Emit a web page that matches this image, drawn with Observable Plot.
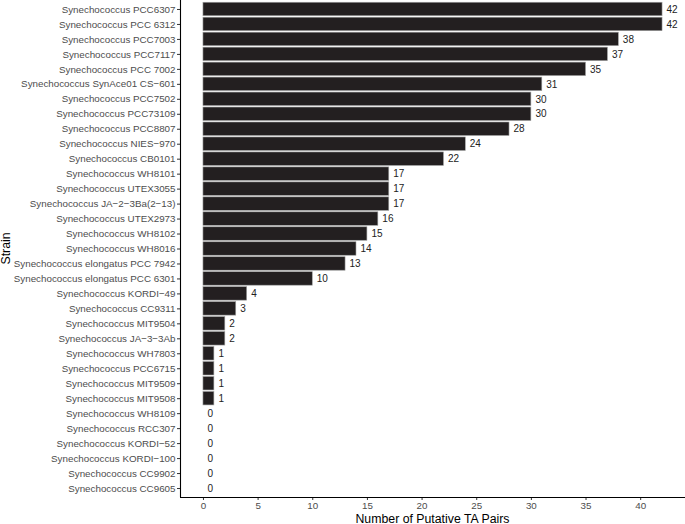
<!DOCTYPE html>
<html>
<head>
<meta charset="utf-8">
<script src="https://cdn.jsdelivr.net/npm/d3@7"></script>
<script src="https://cdn.jsdelivr.net/npm/@observablehq/plot@0.6"></script>
<style>
  html, body { margin: 0; padding: 0; background: #fff; }
  #chart svg { display: block; }
</style>
</head>
<body>
<div id="chart"></div>
<script>
const strains = [
  "Synechococcus PCC6307",
  "Synechococcus PCC 6312",
  "Synechococcus PCC7003",
  "Synechococcus PCC7117",
  "Synechococcus PCC 7002",
  "Synechococcus SynAce01 CS\u2212601",
  "Synechococcus PCC7502",
  "Synechococcus PCC73109",
  "Synechococcus PCC8807",
  "Synechococcus NIES\u2212970",
  "Synechococcus CB0101",
  "Synechococcus WH8101",
  "Synechococcus UTEX3055",
  "Synechococcus JA\u22122\u22123Ba(2\u221213)",
  "Synechococcus UTEX2973",
  "Synechococcus WH8102",
  "Synechococcus WH8016",
  "Synechococcus elongatus PCC 7942",
  "Synechococcus elongatus PCC 6301",
  "Synechococcus KORDI\u221249",
  "Synechococcus CC9311",
  "Synechococcus MIT9504",
  "Synechococcus JA\u22123\u22123Ab",
  "Synechococcus WH7803",
  "Synechococcus PCC6715",
  "Synechococcus MIT9509",
  "Synechococcus MIT9508",
  "Synechococcus WH8109",
  "Synechococcus RCC307",
  "Synechococcus KORDI\u221252",
  "Synechococcus KORDI\u2212100",
  "Synechococcus CC9902",
  "Synechococcus CC9605"
];
const taPairs = [42, 42, 38, 37, 35, 31, 30, 30, 28, 24, 22, 17, 17, 17, 16, 15, 14, 13, 10, 4, 3, 2, 2, 1, 1, 1, 1, 0, 0, 0, 0, 0, 0];
const xTicks = [0, 5, 10, 15, 20, 25, 30, 35, 40];

const data = strains.map((s, i) => ({strain: s, n: taPairs[i]}));
const maxV = d3.max(taPairs);
const pad = maxV * 0.05;
const W = 685, H = 524, ML = 180, MB = 27;

const chart = Plot.plot({
  width: W,
  height: H,
  marginLeft: ML,
  marginRight: 0,
  marginTop: 0,
  marginBottom: MB,
  style: {fontFamily: "'Liberation Sans', Arial, sans-serif", fontSize: "10px", background: "#fff", overflow: "visible"},
  x: {domain: [-pad, maxV + pad]},
  y: {domain: strains, paddingInner: 0.1, paddingOuter: 0.15},
  marks: [
    Plot.barX(data, {x: "n", y: "strain", fill: "#231f20", stroke: "#a0a0a0", strokeWidth: 0.6}),
    Plot.text(data, {x: "n", y: "strain", text: d => String(d.n), textAnchor: "start", dx: 4, fill: "#222", fontSize: 10}),
    Plot.axisY({tickSize: 3, tickPadding: 2, fill: "#4d4d4d", stroke: "#333", fontSize: 9.8,
      label: null}),
    Plot.axisX({ticks: xTicks, tickSize: 3, tickPadding: 2, fill: "#4d4d4d", stroke: "#333", fontSize: 9.8,
      label: null}),
    Plot.ruleX([-pad], {stroke: "#000", strokeWidth: 1.1})
  ]
});
const svg = d3.select(chart);
// bottom axis line
svg.append("line")
  .attr("x1", ML).attr("x2", W)
  .attr("y1", H - MB + 0.5).attr("y2", H - MB + 0.5)
  .attr("stroke", "#000").attr("stroke-width", 1.1);
// axis titles
svg.append("text")
  .attr("x", ML + (W - ML) / 2).attr("y", H - 1.5)
  .attr("text-anchor", "middle")
  .attr("font-size", 12.3).attr("fill", "#000")
  .text("Number of Putative TA Pairs");
svg.append("text")
  .attr("transform", `translate(9.5, ${(H - MB) / 2}) rotate(-90)`)
  .attr("text-anchor", "middle")
  .attr("font-size", 12.3).attr("fill", "#000")
  .text("Strain");
document.getElementById("chart").appendChild(chart);
</script>
</body>
</html>
